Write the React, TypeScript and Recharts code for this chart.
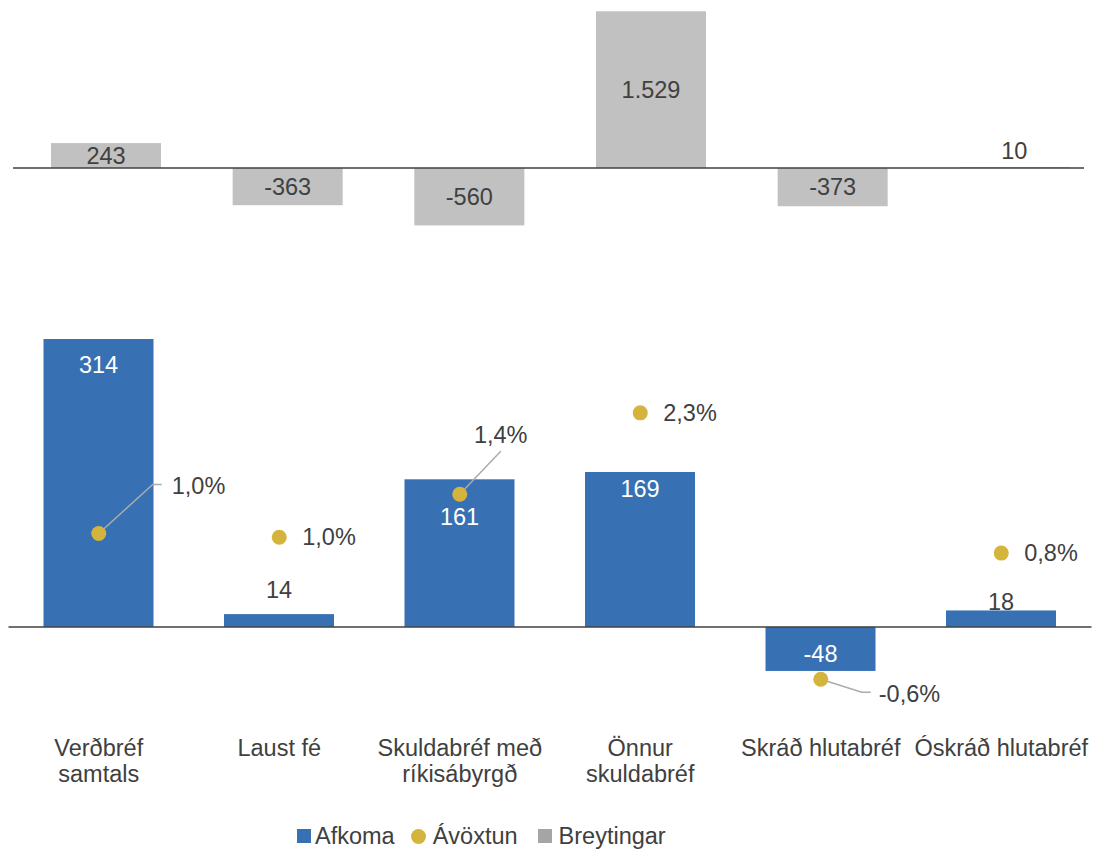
import React from "react";
import { BarChart, Bar, ComposedChart, Line, XAxis, YAxis, ReferenceLine } from "recharts";

// categories (line breaks as in the original axis labels)
const CATEGORIES = [
  "Verðbréf\nsamtals",
  "Laust fé",
  "Skuldabréf með\nríkisábyrgð",
  "Önnur\nskuldabréf",
  "Skráð hlutabréf",
  "Óskráð hlutabréf",
];
const AFKOMA = [314, 14, 161, 169, -48, 18];
const AVOXTUN = [1.0, 0.96, 1.42, 2.29, -0.56, 0.79];
const BREYTINGAR = [243, -363, -560, 1529, -373, 10];

const SERIES = [
  { name: "Afkoma", color: "#3771B4", marker: "square" },
  { name: "Ávöxtun", color: "#D4B43C", marker: "circle" },
  { name: "Breytingar", color: "#A5A5A5", marker: "square" },
];

const BLUE = "#3771B4";
const YELLOW = "#D4B43C";
const GRAY = "#C0C1C0";
const TEXT = "#404040";
const LEADER = "#ABABAB";
const FONT = "'Liberation Sans', Arial, sans-serif";
const FS = 23.5;

// label placement (manually moved labels in the original)
const BAR_LABEL_DY = [26, -24, 37, 17, 27, -9];
const BAR_LABEL_INSIDE = [true, false, true, true, true, false];
const DOT_LABELS = [
  { dx: 73, dy: -48, anchor: "start", leader: [[54, -49], [63, -49]] },
  { dx: 23, dy: 0, anchor: "start", leader: null },
  { dx: 41, dy: -59, anchor: "middle", leader: [[41, -43]] },
  { dx: 23, dy: 0, anchor: "start", leader: null },
  { dx: 58, dy: 14, anchor: "start", leader: [[41, 13], [50, 13]] },
  { dx: 23, dy: 0, anchor: "start", leader: null },
];

const AFK_DOMAIN = [-100, 350];
const PCT_PER_UNIT = 101.96; // Afkoma units per 1 % so both zeros line up
const PCT_DOMAIN = [AFK_DOMAIN[0] / PCT_PER_UNIT, AFK_DOMAIN[1] / PCT_PER_UNIT];

const data = CATEGORIES.map((name, i) => ({
  name,
  afkoma: AFKOMA[i],
  avoxtun: AVOXTUN[i],
  breytingar: BREYTINGAR[i],
}));

const fmtInt = (v: number) =>
  (v < 0 ? "-" : "") + String(Math.abs(v)).replace(/\B(?=(\d{3})+(?!\d))/g, ".");
const fmtPct = (v: number) => v.toFixed(1).replace(".", ",") + "%";

function GrayBar(props: any) {
  const { x, y, width, height, index } = props;
  const top = Math.min(y, y + height);
  const h = Math.abs(height);
  const cy = h < 20 ? top - 16 : top + h / 2;
  return (
    <g>
      <rect x={x} y={top} width={width} height={h} fill={GRAY} />
      <text x={x + width / 2} y={cy} dy="0.35em" textAnchor="middle" fill={TEXT} fontSize={FS} fontFamily={FONT}>
        {fmtInt(BREYTINGAR[index])}
      </text>
    </g>
  );
}

function BlueBar(props: any) {
  const { x, y, width, height, index } = props;
  const top = Math.min(y, y + height);
  const h = Math.abs(height);
  return (
    <g>
      <rect x={x} y={top} width={width} height={h} fill={BLUE} />
      <text
        x={x + width / 2}
        y={top + BAR_LABEL_DY[index]}
        dy="0.35em"
        textAnchor="middle"
        fill={BAR_LABEL_INSIDE[index] ? "#FFFFFF" : TEXT}
        fontSize={FS}
        fontFamily={FONT}
      >
        {fmtInt(AFKOMA[index])}
      </text>
    </g>
  );
}

function Dot(props: any) {
  const { cx, cy, index } = props;
  if (cx == null || cy == null) return <g />;
  const lab = DOT_LABELS[index];
  const pts = lab.leader ? [[0, 0], ...lab.leader].map((p) => `${cx + p[0]},${cy + p[1]}`).join(" ") : "";
  return (
    <g>
      {lab.leader && <polyline points={pts} fill="none" stroke={LEADER} strokeWidth={1.5} />}
      <circle cx={cx} cy={cy} r={7.5} fill={YELLOW} />
      <text
        x={cx + lab.dx}
        y={cy + lab.dy}
        dy="0.35em"
        textAnchor={lab.anchor as any}
        fill={TEXT}
        fontSize={FS}
        fontFamily={FONT}
      >
        {fmtPct(AVOXTUN[index])}
      </text>
    </g>
  );
}

function CategoryTick(props: any) {
  const { x, y, payload } = props;
  const lines = String(payload.value).split("\n");
  return (
    <text x={x} y={y} textAnchor="middle" fill={TEXT} fontSize={FS} fontFamily={FONT}>
      {lines.map((l, i) => (
        <tspan key={i} x={x} dy={i === 0 ? 37 : 26}>
          {l}
        </tspan>
      ))}
    </text>
  );
}

// the top axis line stops short of the plot's right edge in the original
function TopZeroLine(props: any) {
  const { x1, y1, x2, y2 } = props;
  return <line x1={x1 - 2} y1={y1} x2={x2 - 21} y2={y2} stroke={TEXT} strokeWidth={1.5} />;
}

function LegendRow() {
  return (
    <div
      style={{
        position: "absolute",
        top: 822,
        left: 297,
        display: "flex",
        alignItems: "center",
        fontFamily: FONT,
        fontSize: FS,
        lineHeight: "28px",
        color: TEXT,
        whiteSpace: "nowrap",
      }}
    >
      {SERIES.map((s, i) => (
        <div key={s.name} style={{ display: "flex", alignItems: "center", marginLeft: i === 0 ? 0 : i === 1 ? 16 : 20 }}>
          <span
            style={{
              display: "inline-block",
              width: s.marker === "circle" ? 15 : 14,
              height: s.marker === "circle" ? 15 : 14,
              borderRadius: s.marker === "circle" ? "50%" : 0,
              background: s.color,
              marginRight: s.marker === "circle" ? 7 : i === 0 ? 4 : 7,
            }}
          />
          <span>{s.name}</span>
        </div>
      ))}
    </div>
  );
}

export default function App() {
  return (
    <div style={{ position: "relative", width: 1094, height: 850, overflow: "hidden", background: "#fff" }}>
      <style>{`body{margin:0}`}</style>
      <div style={{ position: "absolute", top: 0, left: 0 }}>
        <BarChart width={1105} height={250} data={data} margin={{ top: 4, right: 0, left: 15, bottom: 0 }}>
          <XAxis dataKey="name" hide />
          <YAxis hide domain={[-800, 1600]} />
          <Bar dataKey="breytingar" barSize={110} shape={<GrayBar />} isAnimationActive={false} />
          <ReferenceLine y={0} stroke={TEXT} strokeWidth={1.5} shape={<TopZeroLine />} />
        </BarChart>
      </div>
      <div style={{ position: "absolute", top: 250, left: 0 }}>
        <ComposedChart width={1094} height={540} data={data} margin={{ top: 56, right: 2.5, left: 8.5, bottom: 0 }}>
          <XAxis
            dataKey="name"
            axisLine={false}
            tickLine={false}
            tickSize={0}
            tickMargin={0}
            height={71.35}
            interval={0}
            tick={<CategoryTick />}
          />
          <YAxis yAxisId="afk" hide domain={AFK_DOMAIN} />
          <YAxis yAxisId="pct" hide orientation="right" domain={PCT_DOMAIN} />
          <Bar yAxisId="afk" dataKey="afkoma" barSize={110} shape={<BlueBar />} isAnimationActive={false} />
          <ReferenceLine yAxisId="afk" y={0} stroke={TEXT} strokeWidth={1.5} />
          <Line
            yAxisId="pct"
            dataKey="avoxtun"
            stroke="none"
            dot={<Dot />}
            activeDot={false}
            isAnimationActive={false}
          />
        </ComposedChart>
      </div>
      <LegendRow />
    </div>
  );
}
